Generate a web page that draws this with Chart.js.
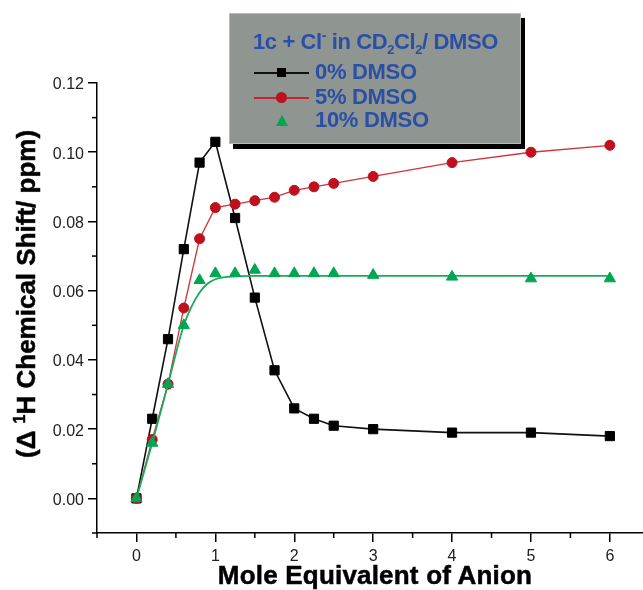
<!DOCTYPE html>
<html>
<head>
<meta charset="utf-8">
<script src="https://cdn.jsdelivr.net/npm/chart.js@4.4.0/dist/chart.umd.min.js"></script>
<style>
    html, body { margin: 0; padding: 0; background: #fff; }
    #wrap { position: relative; width: 643px; height: 590px; font-family: "Liberation Sans", Arial, sans-serif; }
    #chart { position: absolute; left: 0; top: 0; }
    .ytitle { position: absolute; left: 26px; top: 294px; transform: translate(-50%, -50%) rotate(-90deg);
        white-space: nowrap; font-weight: bold; font-size: 26px; line-height: 1; color: #000;
        -webkit-text-stroke: 0.5px #000; }
    .ytitle sup { font-size: 16px; vertical-align: 10px; line-height: 0; }
    .xtitle { position: absolute; left: 375px; top: 562px; transform: translateX(-50%);
        white-space: nowrap; font-weight: bold; font-size: 26px; line-height: 1; color: #000;
        letter-spacing: 0.2px; -webkit-text-stroke: 0.5px #000; }
    .legend { position: absolute; left: 229px; top: 13px; width: 290px; height: 129px;
        background: #8f9591; border: 1px solid #b8bcb9; box-shadow: 4px 5px 0 #000; color: #2b4fa6;
        font-weight: bold; font-size: 22px; }
    .legend .ttl { position: absolute; left: 23px; top: 15px; white-space: nowrap; letter-spacing: -0.4px; }
    .legend .ttl sub { font-size: 13px; vertical-align: -5px; line-height: 0; }
    .legend .ttl sup { font-size: 14px; vertical-align: 9px; line-height: 0; }
    .row { position: absolute; left: 0; height: 24px; width: 100%; }
    .row .ln { position: absolute; left: 24px; top: 12px; width: 55px; height: 1.5px; }
    .row .mk { position: absolute; }
    .row .tx { position: absolute; left: 85px; top: -1px; white-space: nowrap; letter-spacing: -0.3px; }
</style>
</head>
<body>
<div id="wrap">
    <canvas id="chart" width="643" height="590"></canvas>
    <div class="ytitle">(&Delta; <sup>1</sup>H Chemical Shift/ ppm)</div>
    <div class="xtitle">Mole Equivalent of Anion</div>
    <div class="legend">
        <div class="ttl">1c + Cl<sup>-</sup> in CD<sub>2</sub>Cl<sub>2</sub>/ DMSO</div>
        <div class="row" style="top:46px">
            <div class="ln" style="background:#111"></div>
            <div class="mk" style="left:47px;top:8px;width:9px;height:9px;background:#000"></div>
            <div class="tx">0% DMSO</div>
        </div>
        <div class="row" style="top:71px">
            <div class="ln" style="background:#c8242c"></div>
            <div class="mk" style="left:46px;top:7px;width:11px;height:11px;border-radius:50%;background:#c0101e"></div>
            <div class="tx">5% DMSO</div>
        </div>
        <div class="row" style="top:94px">
            <div class="mk" style="left:46px;top:7px;width:0;height:0;border-left:6px solid transparent;border-right:6px solid transparent;border-bottom:11px solid #00a651"></div>
            <div class="tx">10% DMSO</div>
        </div>
    </div>
</div>
<script>
    // mole equivalents of anion
    const xPoints = [0, 0.2, 0.4, 0.6, 0.8, 1.0, 1.25, 1.5, 1.75, 2.0, 2.25, 2.5, 3, 4, 5, 6];
    // Δ 1H chemical shift (ppm)
    const dmso0 = [0, 0.023, 0.046, 0.072, 0.097, 0.103, 0.081, 0.058, 0.037, 0.026, 0.023, 0.021, 0.020, 0.019, 0.019, 0.018];
    const dmso5 = [0, 0.017, 0.033, 0.055, 0.075, 0.084, 0.085, 0.086, 0.087, 0.089, 0.090, 0.091, 0.093, 0.097, 0.100, 0.102];
    const dmso10 = [0, 0.016, 0.033, 0.050, 0.063, 0.065, 0.065, 0.066, 0.065, 0.065, 0.065, 0.065, 0.0645, 0.064, 0.0635, 0.0635];
    // fitted curve for 10% DMSO
    const fitX = [0, 0.2, 0.4, 0.6, 0.7, 0.8, 0.9, 1.0, 1.2, 1.5, 2, 3, 4, 5, 6];
    const fitY = [0, 0.016, 0.033, 0.050, 0.0555, 0.0595, 0.062, 0.0633, 0.0641, 0.0643, 0.0643, 0.0643, 0.0643, 0.0643, 0.0643];

    const xTicks = [0, 1, 2, 3, 4, 5, 6];
    const xMinor = [-0.5, 0.5, 1.5, 2.5, 3.5, 4.5, 5.5];
    const yTicks = [0, 0.02, 0.04, 0.06, 0.08, 0.10, 0.12];
    const yMinor = [-0.01, 0.01, 0.03, 0.05, 0.07, 0.09, 0.11];

    const pts = (xs, ys) => xs.map((x, i) => ({ x: x, y: ys[i] }));

    // Origin-style short minor ticks, outside the axes
    const minorTicks = {
        id: "minorTicks",
        afterDraw(chart) {
            const ctx = chart.ctx;
            const xs = chart.scales.x;
            const ys = chart.scales.y;
            ctx.save();
            ctx.strokeStyle = "#000";
            ctx.lineWidth = 1.5;
            xMinor.forEach((v) => {
                const px = xs.getPixelForValue(v);
                ctx.beginPath();
                ctx.moveTo(px, xs.top);
                ctx.lineTo(px, xs.top + 5);
                ctx.stroke();
            });
            yMinor.forEach((v) => {
                const py = ys.getPixelForValue(v);
                ctx.beginPath();
                ctx.moveTo(ys.right, py);
                ctx.lineTo(ys.right - 5, py);
                ctx.stroke();
            });
            ctx.restore();
        },
    };

    new Chart(document.getElementById("chart"), {
        type: "line",
        data: {
            datasets: [
                {
                    label: "10% DMSO",
                    data: pts(xPoints, dmso10),
                    showLine: false,
                    pointStyle: "triangle",
                    pointRadius: 6.5,
                    pointBackgroundColor: "#00a651",
                    pointBorderColor: "#00a651",
                    pointBorderWidth: 1,
                    order: 0,
                },
                {
                    label: "fit",
                    data: pts(fitX, fitY),
                    borderColor: "#1aab5a",
                    borderWidth: 1.8,
                    pointRadius: 0,
                    cubicInterpolationMode: "monotone",
                    order: 1,
                },
                {
                    label: "5% DMSO",
                    data: pts(xPoints, dmso5),
                    borderColor: "#d0343a",
                    borderWidth: 1.3,
                    pointStyle: "circle",
                    pointRadius: 5,
                    pointBackgroundColor: "#c0101e",
                    pointBorderColor: "#c0101e",
                    pointBorderWidth: 1,
                    order: 2,
                },
                {
                    label: "0% DMSO",
                    data: pts(xPoints, dmso0),
                    borderColor: "#111",
                    borderWidth: 1.6,
                    pointStyle: "rect",
                    pointRadius: 6.5,
                    pointBackgroundColor: "#000",
                    pointBorderColor: "#000",
                    pointBorderWidth: 1,
                    order: 3,
                },
            ],
        },
        plugins: [minorTicks],
        options: {
            responsive: false,
            animation: false,
            devicePixelRatio: 1,
            layout: { autoPadding: false, padding: { top: 83, left: 0, right: 0, bottom: 0 } },
            plugins: { legend: { display: false }, tooltip: { enabled: false } },
            scales: {
                x: {
                    type: "linear",
                    min: -0.5,
                    max: 6.42,
                    afterBuildTicks: (s) => { s.ticks = xTicks.map((v) => ({ value: v })); },
                    afterFit: (s) => { s.height = 57; s.paddingLeft = 0; s.paddingRight = 0; },
                    border: { display: true, color: "#000", width: 1.5 },
                    grid: { drawOnChartArea: false, drawTicks: true, tickLength: 9, color: "#000", lineWidth: 1.5 },
                    ticks: {
                        color: "#222",
                        padding: 5,
                        maxRotation: 0,
                        font: { family: "Liberation Sans, Arial, sans-serif", size: 16 },
                        callback: (v) => String(v),
                    },
                },
                y: {
                    type: "linear",
                    min: -0.01,
                    max: 0.12,
                    afterBuildTicks: (s) => { s.ticks = yTicks.map((v) => ({ value: v })); },
                    afterFit: (s) => { s.width = 97; },
                    border: { display: true, color: "#000", width: 1.5 },
                    grid: { drawOnChartArea: false, drawTicks: true, tickLength: 9, color: "#000", lineWidth: 1.5 },
                    ticks: {
                        color: "#222",
                        padding: 4,
                        labelOffset: 2,
                        font: { family: "Liberation Sans, Arial, sans-serif", size: 16 },
                        callback: (v) => v.toFixed(2),
                    },
                },
            },
        },
    });
</script>
</body>
</html>
